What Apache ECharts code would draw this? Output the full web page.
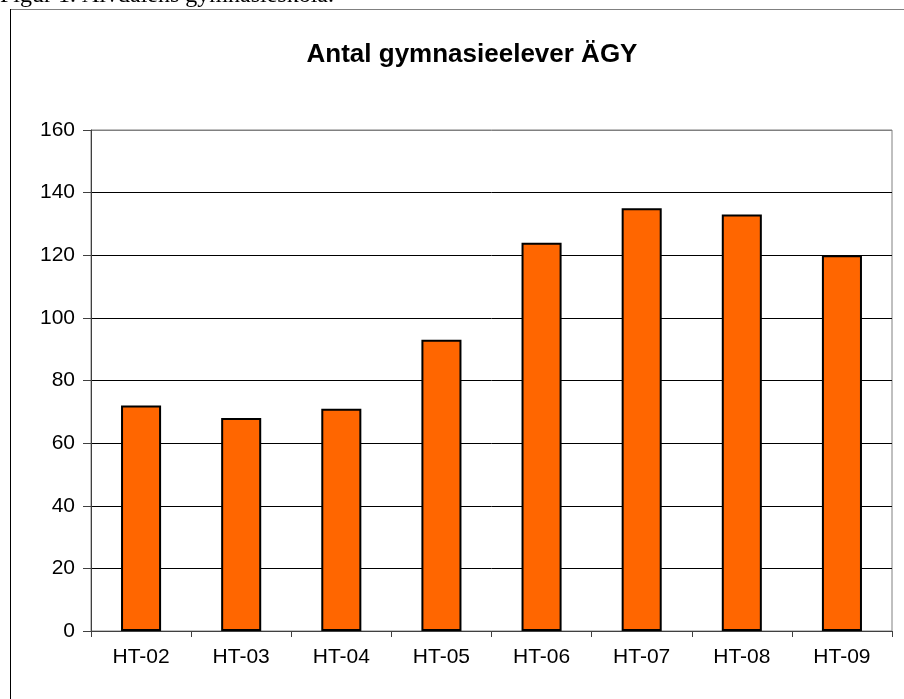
<!DOCTYPE html>
<html>
<head>
<meta charset="utf-8">
<script src="https://cdn.jsdelivr.net/npm/echarts@6/dist/echarts.min.js"></script>
<style>
  html, body { margin: 0; padding: 0; background: #fff; }
  #chart { width: 904px; height: 699px; }
</style>
</head>
<body>
<div id="chart"></div>
<script>
// data
var categories = ["HT-02", "HT-03", "HT-04", "HT-05", "HT-06", "HT-07", "HT-08", "HT-09"];
var elever = [72, 68, 71, 93, 124, 135, 133, 120];
var yMin = 0, yMax = 160, yStep = 20;

var myChart = echarts.init(document.getElementById("chart"));

// gridlines black, topmost one is the grey plot border
var splitColors = [];
for (var v = yMin; v <= yMax; v += yStep) {
  splitColors.push(v === yMax ? "#808080" : "#000000");
}

var option = {
  animation: false,
  backgroundColor: "#ffffff",
  textStyle: { fontFamily: "Liberation Sans, Arial, sans-serif" },
  title: {
    text: "Antal gymnasieelever ÄGY",
    left: 467,
    top: 37,
    textAlign: "center",
    textStyle: { fontSize: 26, fontWeight: "bold", color: "#000" }
  },
  graphic: [
    {
      type: "text",
      left: 0,
      top: -16,
      style: {
        text: "Figur 1. Älvdalens gymnasieskola.",
        font: "24px 'Liberation Serif', 'Times New Roman', serif",
        fill: "#000"
      }
    },
    {
      type: "line",
      shape: { x1: 10, y1: 9.5, x2: 904, y2: 9.5 },
      style: { stroke: "#808080", lineWidth: 1 }
    },
    {
      type: "line",
      shape: { x1: 10.5, y1: 9, x2: 10.5, y2: 699 },
      style: { stroke: "#000", lineWidth: 1 }
    }
  ],
  grid: {
    left: 91,
    right: 12,
    top: 130,
    bottom: 68,
    show: true,
    borderColor: "#808080",
    borderWidth: 1
  },
  xAxis: {
    type: "category",
    data: categories,
    axisLine: { lineStyle: { color: "#404040", width: 1 } },
    axisTick: { show: true, length: 6, lineStyle: { color: "#404040" } },
    axisLabel: { fontSize: 21, color: "#000", margin: 16 }
  },
  yAxis: {
    type: "value",
    min: yMin,
    max: yMax,
    interval: yStep,
    axisLine: { show: true, lineStyle: { color: "#404040", width: 1 } },
    axisTick: { show: true, length: 8, lineStyle: { color: "#404040" } },
    axisLabel: { fontSize: 21, color: "#000", margin: 16 },
    splitLine: { show: true, lineStyle: { color: splitColors, width: 1 } }
  },
  series: [
    {
      type: "bar",
      data: elever,
      barWidth: "40%",
      itemStyle: { color: "#FF6600", borderColor: "#000", borderWidth: 2 }
    }
  ]
};
myChart.setOption(option);
</script>
</body>
</html>
